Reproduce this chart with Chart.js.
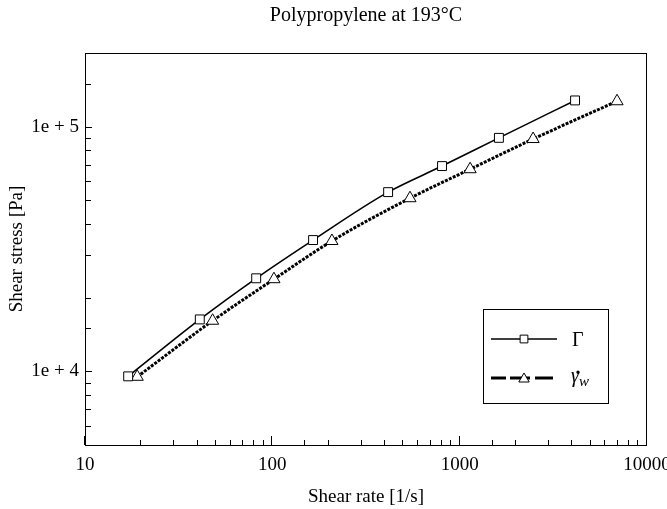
<!DOCTYPE html>
<html>
<head>
<meta charset="utf-8">
<script src="https://cdn.jsdelivr.net/npm/chart.js@4.4.0/dist/chart.umd.min.js"></script>
<style>
  html, body { margin: 0; padding: 0; background: #fff; }
  #wrap { width: 667px; height: 509px; }
</style>
</head>
<body>
<div id="wrap"><canvas id="chart"></canvas></div>
<script>
const SERIF = '"Liberation Serif", "Times New Roman", serif';

const chartTitle = "Polypropylene at 193°C";
const xTitle = "Shear rate [1/s]";
const yTitle = "Shear stress [Pa]";

// Gamma series (squares, solid line)
const gammaRate = [17, 41, 82, 165, 415, 805, 1620, 4130];
const gammaStress = [9540, 16300, 24000, 34400, 54000, 69000, 90000, 128000];

// wall shear rate series (triangles, thick dotted line)
const wallRate = [19, 48, 102, 208, 543, 1137, 2466, 6920];
const wallStress = [9500, 16100, 23800, 34100, 51000, 67000, 89000, 127000];

const xRange = [10, 10000];
const yRange = [5000, 200000];
const xTickLabels = { 10: "10", 100: "100", 1000: "1000", 10000: "10000" };
const yTickLabels = { 10000: "1e + 4", 100000: "1e + 5" };
const legendNames = ["Γ", "γ", ".", "w"];

const toPoints = (xs, ys) => xs.map((x, i) => ({ x, y: ys[i] }));
const isDecade = (v) => Math.abs(Math.log10(v) - Math.round(Math.log10(v))) < 1e-9;

// frame around the plot and ticks pointing inwards
const frameAndTicks = {
  id: "frameAndTicks",
  afterDraw(chart) {
    const { ctx, chartArea: a, scales } = chart;
    ctx.save();
    ctx.strokeStyle = "#000";
    ctx.lineWidth = 1;
    ctx.strokeRect(a.left + 0.5, a.top + 0.5, a.right - a.left - 1, a.bottom - a.top);

    ctx.beginPath();
    scales.x.ticks.forEach((t) => {
      const px = Math.round(scales.x.getPixelForValue(t.value)) - 0.5;
      const len = isDecade(t.value) ? 9 : 5;
      ctx.moveTo(px, a.bottom);
      ctx.lineTo(px, a.bottom - len);
    });
    scales.y.ticks.forEach((t) => {
      const py = Math.round(scales.y.getPixelForValue(t.value)) + 0.5;
      const len = isDecade(t.value) ? 7 : 6;
      ctx.moveTo(a.left, py);
      ctx.lineTo(a.left + len, py);
    });
    ctx.stroke();
    ctx.restore();
  },
};

// boxed legend inside the plot, lower right
const boxedLegend = {
  id: "boxedLegend",
  afterDraw(chart) {
    const { ctx } = chart;
    const ds = chart.data.datasets;
    ctx.save();
    ctx.strokeStyle = "#000";
    ctx.lineWidth = 1;
    ctx.strokeRect(483.5, 309.5, 125, 94);

    // row 1: solid line + square
    ctx.lineWidth = ds[0].borderWidth;
    ctx.beginPath();
    ctx.moveTo(491, 339);
    ctx.lineTo(557, 339);
    ctx.stroke();
    ctx.fillStyle = "#fff";
    ctx.lineWidth = 1;
    Chart.helpers.drawPoint(ctx, { pointStyle: "rect", radius: 5.5, borderWidth: 1, rotation: 0 }, 524, 339);

    // row 2: thick dashes + triangle
    ctx.lineWidth = 3;
    ctx.beginPath();
    [[491, 506], [510, 530], [535, 553]].forEach(([x0, x1]) => {
      ctx.moveTo(x0, 378);
      ctx.lineTo(x1, 378);
    });
    ctx.stroke();
    ctx.lineWidth = 1;
    ctx.fillStyle = "#fff";
    Chart.helpers.drawPoint(ctx, { pointStyle: "triangle", radius: 6, borderWidth: 1, rotation: 0 }, 524, 379);

    ctx.fillStyle = "#000";
    ctx.textBaseline = "alphabetic";
    ctx.textAlign = "left";
    ctx.font = "20px " + SERIF;
    ctx.fillText(legendNames[0], 572, 346);
    ctx.font = "italic 20px " + SERIF;
    ctx.fillText(legendNames[1], 571, 382);
    const gw = ctx.measureText(legendNames[1]).width;
    // dot over gamma
    ctx.textAlign = "center";
    ctx.font = "bold 20px " + SERIF;
    ctx.fillText(legendNames[2], 578, 374);
    ctx.textAlign = "left";
    ctx.font = "italic 15px " + SERIF;
    ctx.fillText(legendNames[3], 571 + gw, 386);
    ctx.restore();
  },
};

new Chart(document.getElementById("chart"), {
  type: "line",
  data: {
    datasets: [
      {
        label: "Γ",
        data: toPoints(gammaRate, gammaStress),
        borderColor: "#000",
        borderWidth: 1.6,
        cubicInterpolationMode: "monotone",
        pointStyle: "rect",
        pointRadius: 6.3,
        pointBackgroundColor: "#fff",
        pointBorderColor: "#000",
        pointBorderWidth: 1,
      },
      {
        label: "γ̇w",
        data: toPoints(wallRate, wallStress),
        borderColor: "#000",
        borderWidth: 3,
        borderDash: [3, 1.3],
        cubicInterpolationMode: "monotone",
        pointStyle: "triangle",
        pointRadius: 7,
        pointBackgroundColor: "#fff",
        pointBorderColor: "#000",
        pointBorderWidth: 1,
      },
    ],
  },
  options: {
    responsive: true,
    maintainAspectRatio: false,
    animation: false,
    layout: { padding: { left: 0, right: 20, top: 0, bottom: 0 } },
    plugins: {
      legend: { display: false },
      tooltip: { enabled: false },
      title: {
        display: true,
        text: chartTitle,
        fullSize: false,
        color: "#000",
        font: { family: SERIF, size: 20, weight: "normal" },
        padding: { top: 4, bottom: 25 },
      },
    },
    scales: {
      x: {
        type: "logarithmic",
        position: "bottom",
        min: xRange[0],
        max: xRange[1],
        grid: { display: false, drawTicks: false },
        border: { display: false },
        ticks: {
          autoSkip: false,
          maxRotation: 0,
          padding: 9,
          color: "#000",
          font: { family: SERIF, size: 19 },
          callback: (v) => xTickLabels[v] ?? "",
        },
        title: {
          display: true,
          text: xTitle,
          color: "#000",
          font: { family: SERIF, size: 19 },
          padding: { top: 0, bottom: 1 },
        },
        afterFit(s) {
          s.height = 64;
          s.paddingLeft = 0;
          s.paddingRight = 0;
        },
      },
      y: {
        type: "logarithmic",
        min: yRange[0],
        max: yRange[1],
        grid: { display: false, drawTicks: false },
        border: { display: false },
        ticks: {
          autoSkip: false,
          padding: 6,
          color: "#000",
          font: { family: SERIF, size: 19 },
          callback: (v) => yTickLabels[v] ?? "",
        },
        title: {
          display: true,
          text: yTitle,
          color: "#000",
          font: { family: SERIF, size: 19 },
          padding: { top: 5.6, bottom: 0 },
        },
        afterFit(s) {
          s.width = 85;
          s.paddingTop = 0;
          s.paddingBottom = 0;
        },
      },
    },
  },
  plugins: [frameAndTicks, boxedLegend],
});
</script>
</body>
</html>
